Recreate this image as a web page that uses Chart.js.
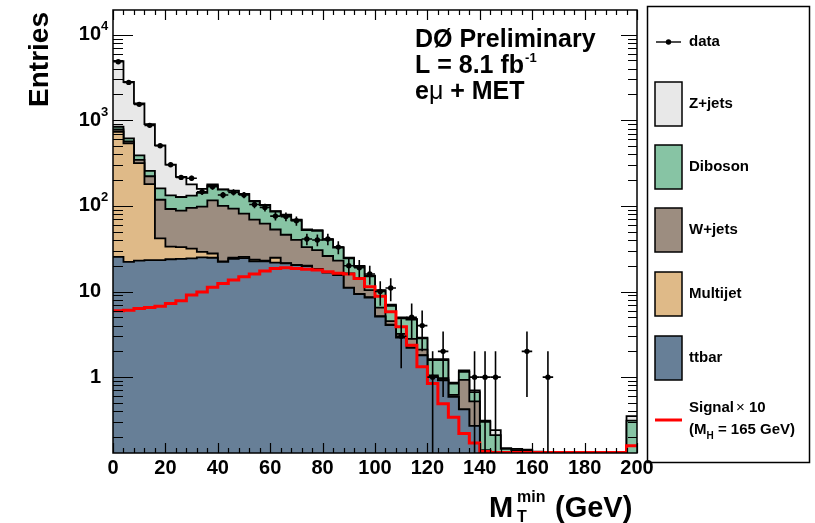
<!DOCTYPE html>
<html><head><meta charset="utf-8">
<script src="https://cdn.jsdelivr.net/npm/chart.js@4.4.0/dist/chart.umd.min.js"></script>
<style>html,body{margin:0;padding:0;background:#fff;}</style>
</head><body>
<canvas id="c" width="815" height="523"></canvas>
<script>
// ---------- data ----------
const binWidth = 4; // GeV
const binLowEdges = [0,4,8,12,16,20,24,28,32,36,40,44,48,52,56,60,64,68,72,76,80,84,88,92,96,100,104,108,112,116,120,124,128,132,136,140,144,148,152,156,160,164,168,172,176,180,184,188,192,196];
const dataCounts = [4820,2770,1535,872,504,302,215,210,146,167,134,144,134,104,96,76,75,67,41,40,41,33,20,19,16,10,11,3,5,4,1,2,0,0,1,1,1,0,0,2,0,1,0,0,0,0,0,0,0,0];
const ttbar    = [25.4,22.2,23,23.3,23.3,23.8,24,24.4,25,24.8,22.2,24,24.5,22.5,22.5,21.8,21.3,20.3,19.8,18.2,16.6,15.5,11,9.3,8.5,5.1,4.05,2.9,2.2,1.8,1.0,0.92,0.59,0.42,0.27,0.12,0.1,0.05,0.05,0.05,0,0,0,0,0,0,0,0,0,0.1];
const multijet = [708.6,514.8,292,156.7,18.4,9.7,9,7.3,4,3,0.2,0.8,0.9,1,0.5,3,0.2,0.2,0.2,0.2,0.1,0.1,0.1,0.1,0.1,0.05,0.05,0.02,0.02,0.01,0,0,0,0,0,0,0,0,0,0,0,0,0,0,0,0,0,0,0,0];
const wjets    = [46,28,30,42,76.3,58.5,55,63.3,69,88.2,77.6,68.2,55.6,45.5,39,28.2,24.5,19.5,13,12.1,9.3,7.4,5.2,4.6,1.8,1.35,0.4,0.28,0.58,0.29,0.05,0.05,0.03,0.51,0.25,0.02,0.01,0.01,0.01,0.01,0.02,0,0,0,0,0,0,0,0,0];
const diboson  = [60,49,45,35,42,41,39,37,44,56,55,57,56,44,40,33,32,28,19,20.5,14,9.6,8.1,5.5,4.6,3.7,2.3,1.65,1.9,0.73,0.53,0.61,0.22,0.22,0.15,0.16,0.10,0.085,0.08,0.08,0.113,0,0,0,0,0,0,0,0,0.21];
const zjets    = [4060,2186,1180,643,350,171,91,46,16,6,1,1,1,1,1,1,1,1,1,1,1,0.4,0.4,0.4,0.3,0.2,0.2,0.15,0.1,0.07,0.04,0.04,0.02,0.05,0.03,0.01,0.03,0.003,0.005,0.002,0.002,0,0,0,0,0,0,0,0,0.04];
const signalX10 = [5.95,6.05,6.35,6.5,6.75,7.25,7.8,9.1,9.9,11.2,12.4,13.6,14.9,16,17.4,18.6,18.9,18.6,18.2,17.8,17,16.3,16,14.2,11.4,8.8,5.8,3.87,2.36,1.32,0.84,0.49,0.34,0.22,0.17,0.135,0.132,0.132,0.132,0.132,0.132,0.132,0.132,0.132,0.132,0.132,0.132,0.132,0.132,0.158];
const xTickValues = [0,20,40,60,80,100,120,140,160,180,200];
const yDecades = [1,10,100,1000,10000];

const processes = [
  {label:'ttbar',    vals:ttbar,    color:'#677f97'},
  {label:'Multijet', vals:multijet, color:'#dfba88'},
  {label:'W+jets',   vals:wjets,    color:'#9c8d80'},
  {label:'Diboson',  vals:diboson,  color:'#87c4a4'},
  {label:'Z+jets',   vals:zjets,    color:'#e8e8e8'}
];

// ---------- build library tables ----------
const NB = binLowEdges.length;
const FLOOR = 0.01; // below the visible axis range
function stepPoints(vals){
  const pts = vals.map((v,i)=>({x:binLowEdges[i], y: v>0 ? v : FLOOR}));
  pts.push({x:binLowEdges[NB-1]+binWidth, y:pts[NB-1].y});
  return pts;
}
let running = new Array(NB).fill(0);
const stackDatasets = processes.map((p,k)=>{
  running = running.map((r,i)=>r+p.vals[i]);
  return {
    type:'line', label:p.label, data:stepPoints(running), stepped:'before',
    borderColor:'#000', borderWidth:1.8, backgroundColor:p.color,
    fill: k===0 ? 'start' : '-1', pointRadius:0
  };
});
const datasets = [
  {type:'line', label:'data', showLine:false, pointRadius:2.7, pointBackgroundColor:'#000', pointBorderWidth:0,
   data: dataCounts.map((n,i)=>({x:binLowEdges[i]+binWidth/2, y: n>0 ? n : null}))},
  {type:'line', label:'Signal x 10', data:stepPoints(signalX10), stepped:'before', borderColor:'#ff0000', borderWidth:3, fill:false, pointRadius:0},
  ...stackDatasets
];

const FONT = '"Liberation Sans", Arial, Helvetica, sans-serif';

const decor = {
  id:'decor',
  afterDatasetsDraw(chart){
    const {ctx, chartArea:a, scales:{x,y}} = chart;
    ctx.save();
    ctx.beginPath(); ctx.rect(a.left, a.top, a.right-a.left, a.bottom-a.top); ctx.clip();
    ctx.strokeStyle='#000'; ctx.lineWidth=1.6;
    dataCounts.forEach((n,i)=>{
      if(n<=0) return;
      const xc = x.getPixelForValue(binLowEdges[i]+binWidth/2);
      const x0 = x.getPixelForValue(binLowEdges[i]);
      const x1 = x.getPixelForValue(binLowEdges[i]+binWidth);
      const e = Math.sqrt(n);
      const yt = y.getPixelForValue(n+e);
      const yb = (n-e)>0 ? y.getPixelForValue(n-e) : a.bottom;
      const yc = y.getPixelForValue(n);
      ctx.beginPath();
      ctx.moveTo(xc,yt); ctx.lineTo(xc,yb);
      ctx.moveTo(x0,yc); ctx.lineTo(x1,yc);
      ctx.stroke();
    });
    ctx.restore();
  },
  afterDraw(chart){
    const {ctx, chartArea:a, scales:{x,y}} = chart;
    ctx.save();
    // frame
    ctx.strokeStyle='#000'; ctx.lineWidth=1.5;
    ctx.strokeRect(a.left, a.top, a.right-a.left, a.bottom-a.top);
    // x ticks
    ctx.lineWidth=1.2;
    ctx.beginPath();
    for(let v=0; v<=200; v+=4){
      const px = Math.round(x.getPixelForValue(v))+0.5;
      const L = (v%20===0) ? 10 : 5;
      ctx.moveTo(px,a.bottom); ctx.lineTo(px,a.bottom-L);
      ctx.moveTo(px,a.top); ctx.lineTo(px,a.top+L);
    }
    // y ticks
    for(let k=-1;k<=4;k++){
      for(let m=1;m<=9;m++){
        const v = m*Math.pow(10,k);
        if(v<y.min || v>y.max) continue;
        const py = Math.round(y.getPixelForValue(v))+0.5;
        const major = m===1;
        ctx.moveTo(a.left,py); ctx.lineTo(a.left+(major?20:10),py);
        ctx.moveTo(a.right,py); ctx.lineTo(a.right-(major?16:9),py);
      }
    }
    ctx.stroke();
    // y labels
    ctx.fillStyle='#000';
    yDecades.forEach(v=>{
      const py = y.getPixelForValue(v);
      const k = Math.round(Math.log10(v));
      ctx.font = 'bold 20px '+FONT;
      ctx.textBaseline='middle'; ctx.textAlign='right';
      if(k<=1){ ctx.fillText(String(v), a.left-12, py); }
      else {
        ctx.fillText('10', a.left-12, py);
        ctx.font = 'bold 13px '+FONT; ctx.textAlign='left';
        ctx.fillText(String(k), a.left-12, py-8);
      }
    });
    // y title
    ctx.save();
    ctx.translate(48, 12); ctx.rotate(-Math.PI/2);
    ctx.font='bold 28px '+FONT; ctx.textAlign='right'; ctx.textBaseline='alphabetic';
    ctx.fillText('Entries', 0, 0);
    ctx.restore();
    // x title
    ctx.textAlign='left'; ctx.textBaseline='alphabetic';
    ctx.font='bold 29px '+FONT; ctx.fillText('M', 489, 517);
    ctx.font='bold 16px '+FONT; ctx.fillText('min', 517, 502); ctx.fillText('T', 517, 522);
    ctx.font='bold 29px '+FONT; ctx.fillText('(GeV)', 555, 517);
    // annotation
    ctx.font='bold 25px '+FONT;
    ctx.fillText('D\u00D8 Preliminary', 415, 47);
    ctx.fillText('L = 8.1 fb', 415, 73);
    let w = ctx.measureText('L = 8.1 fb').width;
    ctx.font='bold 13px '+FONT; ctx.fillText('-1', 415+w+1, 62);
    ctx.font='bold 25px '+FONT; ctx.fillText('e', 415, 99);
    w = ctx.measureText('e').width;
    ctx.font='25px '+FONT; ctx.fillText('\u03BC', 415+w, 99);
    const w2 = ctx.measureText('\u03BC').width;
    ctx.font='bold 25px '+FONT; ctx.fillText(' + MET', 415+w+w2, 99);
    // legend
    ctx.lineWidth=1.5; ctx.strokeStyle='#000';
    ctx.strokeRect(647.5, 6.5, 162, 456);
    ctx.font='bold 15px '+FONT; ctx.textBaseline='middle'; ctx.textAlign='left';
    const tx = 689;
    // data entry
    ctx.beginPath(); ctx.moveTo(656,42); ctx.lineTo(681,42); ctx.lineWidth=1.4; ctx.stroke();
    ctx.beginPath(); ctx.arc(668.5,42,2.7,0,Math.PI*2); ctx.fill();
    ctx.fillText('data', tx, 42);
    const order = [4,3,2,1,0];
    const centers = [104,167,230,294,358];
    order.forEach((pi,j)=>{
      const p = processes[pi];
      ctx.fillStyle=p.color; ctx.fillRect(655,centers[j]-22,27,44);
      ctx.lineWidth=1.5; ctx.strokeStyle='#000'; ctx.strokeRect(655,centers[j]-22,27,44);
      ctx.fillStyle='#000'; ctx.fillText(p.label, tx, centers[j]);
    });
    // signal entry
    ctx.beginPath(); ctx.moveTo(655,420); ctx.lineTo(682,420); ctx.strokeStyle='#ff0000'; ctx.lineWidth=3; ctx.stroke();
    ctx.fillStyle='#000';
    ctx.fillText('Signal', tx, 408);
    let sw = ctx.measureText('Signal').width;
    ctx.font='15px '+FONT; ctx.fillText('\u00D7', tx+sw+2, 408);
    const xw = ctx.measureText('\u00D7').width;
    ctx.font='bold 15px '+FONT; ctx.fillText(' 10', tx+sw+2+xw, 408);
    ctx.fillText('(M', tx, 430);
    sw = ctx.measureText('(M').width;
    ctx.font='bold 10px '+FONT; ctx.fillText('H', tx+sw, 436);
    const hw = ctx.measureText('H').width;
    ctx.font='bold 15px '+FONT; ctx.fillText(' = 165 GeV)', tx+sw+hw, 430);
    ctx.restore();
  }
};

new Chart(document.getElementById('c'), {
  type:'line',
  data:{datasets},
  options:{
    responsive:false, animation:false, devicePixelRatio:1,
    layout:{padding:{top:10,right:178,bottom:0,left:0}},
    plugins:{legend:{display:false}, tooltip:{enabled:false}},
    scales:{
      x:{type:'linear', min:0, max:200,
         grid:{display:false, drawTicks:false}, border:{display:false},
         afterBuildTicks(s){ s.ticks = xTickValues.map(v=>({value:v})); },
         ticks:{autoSkip:false, maxRotation:0, color:'#000', padding:3,
                font:{family:FONT, weight:'bold', size:20}},
         afterFit(s){ s.height = 70; }},
      y:{type:'logarithmic', min:0.13, max:19400,
         grid:{display:false, drawTicks:false}, border:{display:false},
         ticks:{display:false},
         afterFit(s){ s.width = 113; }}
    }
  },
  plugins:[decor]
});
</script>
</body></html>
